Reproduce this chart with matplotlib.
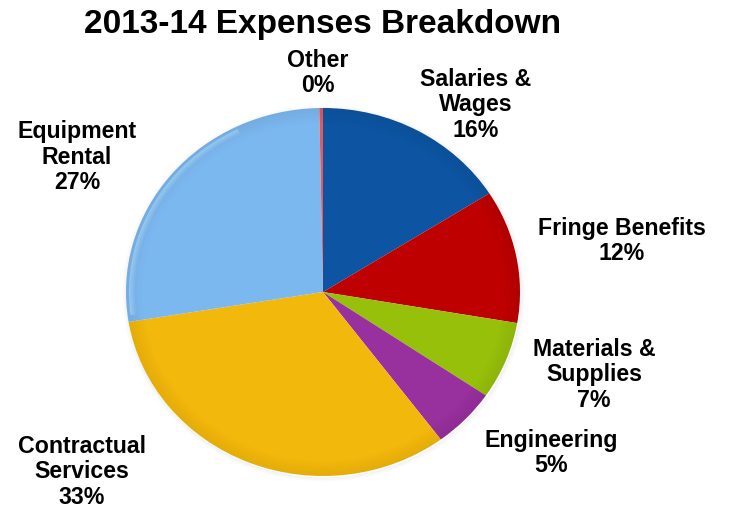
import matplotlib
matplotlib.use("Agg")
import matplotlib.pyplot as plt
from matplotlib.patches import Wedge

# Expense categories, clockwise from 12 o'clock
categories = ["Salaries &\nWages", "Fringe Benefits", "Materials &\nSupplies",
              "Engineering", "Contractual\nServices", "Equipment\nRental", "Other"]
shares = [16.0, 11.7, 6.8, 5.3, 32.6, 27.3, 0.3]
colors = ["#0D55A2", "#BE0000", "#97C00B", "#98309E", "#F3B80C", "#7CB8F0", "#E05A5E"]
title = "2013-14 Expenses Breakdown"

# Label anchor points (pixels from the top-left of the canvas)
label_px = [(476, 105), (622, 241), (594, 375), (551, 453), (82, 472), (77, 157), (318, 73)]

W, H = 731, 514
fig = plt.figure(figsize=(W / 100, H / 100), dpi=100)
fig.patch.set_facecolor("white")

# Pie body: slightly wider than tall
cx, cy, rx, ry = 323, 292, 197, 184
m = 1.04
ax = fig.add_axes([(cx - rx * m) / W, (H - cy - ry * m) / H, 2 * rx * m / W, 2 * ry * m / H])

# soft drop shadow around the rim
for i in range(6):
    r = 1.0 + 0.004 * (i + 1)
    ax.add_patch(Wedge((0.004, -0.008), r, 0, 360, width=0.004,
                       facecolor="black", alpha=0.05 * (6 - i) / 6, linewidth=0))

wedges, _ = ax.pie(shares, colors=colors, startangle=90, counterclock=False,
                   radius=1.0, wedgeprops=dict(linewidth=0.4, edgecolor="none"))

# bevel: darken the outer rim gradually
n = 14
for i in range(n):
    r_out = 1.0 - i * 0.006
    ax.add_patch(Wedge((0, 0), r_out, 0, 360, width=0.006,
                       facecolor="black", alpha=0.035 * (n - i) / n * 1.7, linewidth=0))

# light highlight along the upper-left rim
total = sum(shares)
theta_end = 90 + 360 * shares[-1] / total
theta_start = theta_end + 360 * shares[-2] / total
for i in range(5):
    ax.add_patch(Wedge((0, 0), 0.985 - i * 0.006, theta_end + 25, theta_start - 2, width=0.006,
                       facecolor="#C8F0FF", alpha=0.4 * (5 - i) / 5, linewidth=0))

ax.set_xlim(-m, m)
ax.set_ylim(-m, m)
ax.set_aspect("auto")
ax.axis("off")

for name, share, (px, py) in zip(categories, shares, label_px):
    pct = share / total * 100
    fig.text(px / W, 1 - py / H, f"{name}\n{pct:.0f}%", ha="center", va="center",
             fontsize=16.7, fontweight="bold", family="Liberation Sans",
             linespacing=1.13, color="black")

fig.text(323 / W, 1 - 24 / H, title, ha="center", va="center",
         fontsize=24, fontweight="bold", family="Liberation Sans", color="black")

fig.savefig("out.png", dpi=100, facecolor="white")
